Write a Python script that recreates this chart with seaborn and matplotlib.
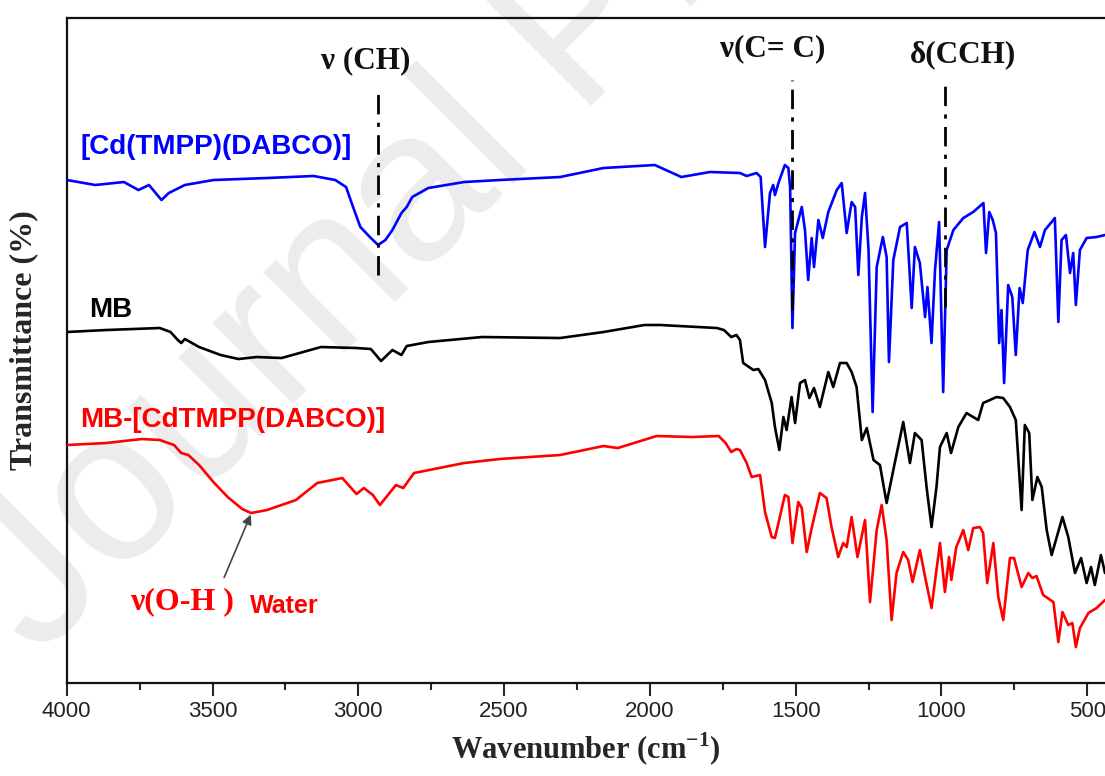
import matplotlib
matplotlib.use("Agg")
import matplotlib.pyplot as plt
import pandas as pd
import seaborn as sns

# FTIR spectra (wavenumber in cm-1, transmittance in arbitrary units)
blue_wn = [4000, 3902, 3804, 3754, 3718, 3675, 3650, 3595, 3497, 3313, 3153, 3079, 3042, 3018,
           2993, 2957, 2932, 2907, 2883, 2852, 2834, 2815, 2760, 2637, 2515, 2308, 2159, 1983,
           1892, 1794, 1691, 1668, 1634, 1620, 1605, 1588, 1577, 1571, 1559, 1537, 1525, 1519,
           1511, 1502, 1479, 1468, 1457, 1445, 1437, 1422, 1407, 1388, 1359, 1342, 1325, 1308,
           1296, 1285, 1273, 1262, 1250, 1236, 1222, 1201, 1188, 1180, 1165, 1142, 1119, 1102,
           1091, 1074, 1056, 1048, 1034, 1022, 1008, 994, 982, 959, 925, 891, 856, 847, 836,
           824, 813, 802, 794, 785, 771, 757, 745, 732, 721, 704, 681, 662, 645, 622, 611, 599,
           588, 573, 559, 548, 539, 525, 502, 468, 439]
blue_t = [503, 498, 501, 493, 498, 483, 490, 498, 503, 505, 507, 503, 496, 476,
          456, 445, 438, 443, 453, 470, 476, 486, 495, 501, 503, 506, 515, 518,
          506, 511, 510, 507, 510, 506, 436, 490, 498, 488, 500, 518, 515, 496,
          355, 450, 476, 453, 403, 445, 416, 463, 445, 471, 493, 500, 450, 481,
          476, 408, 466, 490, 433, 271, 416, 446, 426, 321, 423, 456, 460, 375,
          436, 420, 366, 396, 340, 413, 461, 291, 433, 453, 465, 471, 480, 430, 471,
          463, 450, 340, 373, 300, 398, 386, 328, 395, 380, 433, 451, 436, 453, 461, 465, 361,
          443, 448, 410, 430, 378, 433, 445, 446, 448]

black_wn = [4000, 3865, 3681, 3644, 3619, 3607, 3595, 3546, 3472, 3411, 3349, 3263, 3128, 3006,
            2957, 2922, 2883, 2852, 2834, 2760, 2576, 2308, 2159, 2019, 1964, 1770, 1746, 1721,
            1703, 1691, 1680, 1645, 1628, 1605, 1582, 1571, 1556, 1542, 1531, 1514, 1502, 1485,
            1468, 1453, 1437, 1417, 1388, 1371, 1348, 1325, 1308, 1291, 1273, 1256, 1233, 1211,
            1188, 1165, 1131, 1108, 1091, 1068, 1051, 1034, 1017, 1005, 982, 967, 942, 914, 874,
            857, 834, 811, 788, 765, 745, 725, 714, 699, 688, 671, 656, 639, 622, 585, 565, 542,
            521, 502, 487, 474, 453, 439]
black_t = [351, 353, 355, 351, 343, 340, 344, 336, 328, 324, 326, 325, 336, 335,
           334, 322, 333, 328, 337, 341, 346, 345, 351, 358, 358, 355, 353, 346,
           348, 343, 320, 313, 314, 303, 280, 256, 233, 266, 253, 286, 260, 300,
           303, 285, 295, 276, 311, 296, 320, 320, 311, 296, 243, 255, 223, 218,
           180, 213, 261, 220, 250, 243, 196, 156, 196, 236, 250, 230, 256, 270, 263,
           280, 283, 286, 285, 276, 263, 173, 258, 250, 183, 206, 196, 153, 128, 166, 146, 110,
           125, 100, 116, 98, 128, 110]

red_wn = [4000, 3865, 3742, 3681, 3632, 3607, 3583, 3546, 3497, 3448, 3398, 3368, 3313, 3214,
          3141, 3055, 3006, 2981, 2950, 2926, 2871, 2846, 2809, 2637, 2515, 2308, 2159, 2110,
          1977, 1855, 1764, 1740, 1721, 1703, 1691, 1668, 1651, 1622, 1605, 1582, 1571, 1559,
          1537, 1525, 1511, 1491, 1479, 1462, 1445, 1417, 1394, 1377, 1354, 1337, 1325, 1308,
          1288, 1262, 1245, 1222, 1205, 1188, 1171, 1154, 1131, 1114, 1099, 1074, 1056, 1034,
          1005, 988, 974, 966, 949, 925, 908, 891, 868, 857, 843, 822, 805, 788, 765, 751, 725,
          702, 688, 674, 651, 616, 599, 585, 565, 551, 539, 525, 496, 468, 439]
red_t = [238, 240, 244, 243, 238, 230, 228, 218, 201, 186, 174, 170, 173, 183,
         200, 205, 189, 195, 188, 178, 198, 195, 210, 220, 224, 228, 237, 235,
         247, 246, 247, 240, 231, 234, 233, 220, 206, 208, 171, 146, 145, 160,
         188, 186, 140, 181, 175, 131, 155, 190, 185, 156, 126, 140, 136, 166,
         126, 163, 81, 153, 178, 143, 63, 110, 131, 123, 101, 133, 106, 75,
         140, 91, 126, 103, 136, 153, 133, 155, 156, 150, 100, 140, 86, 63, 125, 125, 96,
         110, 105, 107, 88, 81, 41, 71, 58, 60, 36, 55, 70, 75, 83]

series_names = ["[Cd(TMPP)(DABCO)]", "MB", "MB-[CdTMPP(DABCO)]"]
series_colors = ["#0000ff", "#000000", "#ff0000"]

# band assignments: label, wavenumber of the marker line
bands = [("ν (CH)", 2932), ("ν(C= C)", 1511), ("δ(CCH)", 988)]

x_ticks = [4000, 3500, 3000, 2500, 2000, 1500, 1000, 500]

df = pd.concat([
    pd.DataFrame({"wn": blue_wn, "T": blue_t, "sample": series_names[0]}),
    pd.DataFrame({"wn": black_wn, "T": black_t, "sample": series_names[1]}),
    pd.DataFrame({"wn": red_wn, "T": red_t, "sample": series_names[2]}),
])

sns.set_style("ticks")
plt.rcParams["font.family"] = ["Liberation Sans", "DejaVu Sans"]
plt.rcParams["mathtext.fontset"] = "custom"
plt.rcParams["mathtext.rm"] = "Liberation Serif:bold"
plt.rcParams["mathtext.bf"] = "Liberation Serif:bold"

fig = plt.figure(figsize=(11.05, 7.76), dpi=100)
ax = fig.add_axes([0.0604, 0.1198, 0.9396, 0.857])
ax.set_facecolor("none")

# watermark of the source pdf
ax.text(0.035, 0.15, "Journal Pre-proof", transform=fig.transFigure, rotation=45,
        rotation_mode="anchor", ha="left", va="baseline", fontsize=155,
        color="#ececec", zorder=0, clip_on=False)

sns.lineplot(data=df, x="wn", y="T", hue="sample", palette=series_colors,
             hue_order=series_names, estimator=None, sort=False, linewidth=1.9,
             legend=False, ax=ax, zorder=3)

ax.set_xlim(4000, 439)
ax.set_ylim(0, 665)

# band marker lines
line_tops = [595, 603, 600]
line_bottoms = [408, 373, 376]
text_pos = [(2974, 622), (1578, 634), (926, 628)]
for (label, wn), top, bot, (tx, ty) in zip(bands, line_tops, line_bottoms, text_pos):
    ax.plot([wn, wn], [bot, top], color="black", lw=2,
            linestyle=(0, (7, 3, 1.5, 3)), zorder=4)
    ax.text(tx, ty, label, ha="center", va="center", fontsize=22.5,
            fontweight="bold", family="Liberation Serif", color="#111111")

# sample labels
ax.text(3954, 536, series_names[0], color=series_colors[0], fontsize=20,
        fontweight="bold", va="center", ha="left")
ax.text(3923, 373, series_names[1], color=series_colors[1], fontsize=20,
        fontweight="bold", va="center", ha="left")
ax.text(3954, 263, series_names[2], color=series_colors[2], fontsize=20,
        fontweight="bold", va="center", ha="left")

# water band
ax.annotate("", xy=(3365, 171), xytext=(3464, 103),
            arrowprops=dict(arrowstyle="-|>", color="#444444", lw=1.2,
                            mutation_scale=14))
ax.text(3783, 81, "ν(O-H )", color="#ff0000", fontsize=23, fontweight="bold",
        family="Liberation Serif", va="center", ha="left")
ax.text(3371, 77, "Water", color="#ff0000", fontsize=18, fontweight="bold",
        va="center", ha="left")

ax.set_xticks(x_ticks)
ax.set_xticks(range(3750, 400, -500), minor=True)
ax.set_yticks([])
ax.tick_params(axis="x", which="major", direction="out", length=9, width=1.5,
               labelsize=16, labelcolor="#222222", pad=4)
ax.tick_params(axis="x", which="minor", direction="out", length=5, width=1.5)

for side in ["left", "top", "bottom"]:
    ax.spines[side].set_linewidth(1.6)
    ax.spines[side].set_color("#111111")
ax.spines["right"].set_visible(False)

ax.set_xlabel("Wavenumber (cm$^{-1}$)", fontsize=22, fontweight="bold",
              family="Liberation Serif", labelpad=6)
ax.set_ylabel("Transmittance (%)", fontsize=23, fontweight="bold",
              family="Liberation Serif")
ax.yaxis.set_label_coords(-0.027, 0.515)

fig.savefig("out.png", dpi=100)
